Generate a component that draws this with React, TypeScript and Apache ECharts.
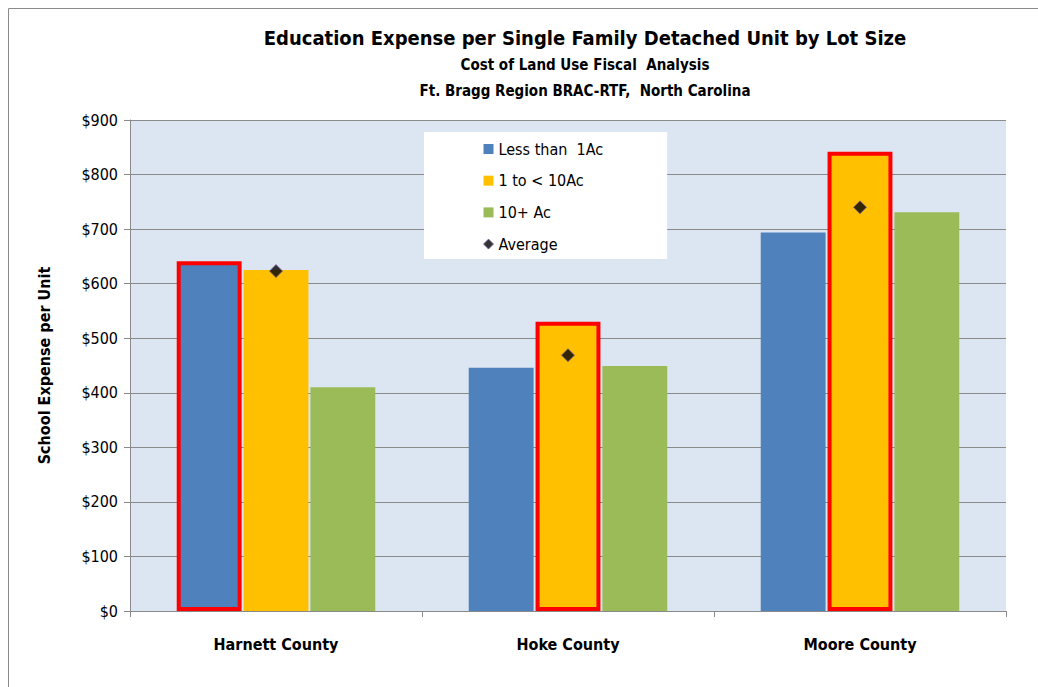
import React, { useEffect, useRef } from "react";
import * as echarts from "echarts";

const categories = ["Harnett County", "Hoke County", "Moore County"];
const lessThan1Ac = [641, 446, 694];
const oneTo10Ac = [625, 530, 842];
const tenPlusAc = [410, 449, 731];
const average = [623, 469, 740];
const highlightSeries = [0, 1, 1]; // which series holds the highlighted (max) bar per category
const yTicks = { min: 0, max: 900, interval: 100 };

const FONT = "'Liberation Sans Narrow', 'DejaVu Sans Condensed', sans-serif";

export default function App() {
  const ref = useRef<HTMLDivElement>(null);
  useEffect(() => {
    document.body.style.margin = "0";
    const chart = echarts.init(ref.current!, null, { renderer: "svg" });
    const mk = (vals: number[], idx: number) =>
      vals.map((v, i) =>
        highlightSeries[i] === idx
          ? { value: v, itemStyle: { borderColor: "#FF0000", borderWidth: 4 } }
          : v
      );
    chart.setOption({
      animation: false,
      textStyle: { fontFamily: FONT },
      title: [
        {
          text: "Education Expense per Single Family Detached Unit by Lot Size",
          left: 580, top: 23, textAlign: "center",
          textStyle: { fontFamily: FONT, fontSize: 20, fontWeight: "bold", color: "#000" },
        },
        {
          text: "Cost of Land Use Fiscal  Analysis",
          left: 580, top: 52, textAlign: "center",
          textStyle: { fontFamily: FONT, fontSize: 15, fontWeight: "bold", color: "#000" },
        },
        {
          text: "Ft. Bragg Region BRAC-RTF,  North Carolina",
          left: 580, top: 78, textAlign: "center",
          textStyle: { fontFamily: FONT, fontSize: 15, fontWeight: "bold", color: "#000" },
        },
      ],
      graphic: [
        {
          type: "rect",
          shape: { x: 8.5, y: 8.5, width: 1040, height: 700 },
          style: { fill: "none", stroke: "#8a8a8a", lineWidth: 1 },
          silent: true,
        },
      ],
      legend: {
        orient: "vertical",
        left: 424,
        top: 132,
        backgroundColor: "#FFFFFF",
        padding: [8, 64, 6, 59],
        itemWidth: 10,
        itemHeight: 10,
        itemGap: 13.7,
        textStyle: { fontFamily: FONT, fontSize: 16, color: "#000", lineHeight: 18 },
        data: [
          { name: "Less than  1Ac", icon: "rect" },
          { name: "1 to < 10Ac", icon: "rect" },
          { name: "10+ Ac", icon: "rect" },
          { name: "Average", icon: "diamond", itemStyle: { color: "#000", borderColor: "#7F5F9F", borderWidth: 1 } },
        ],
      },
      grid: { left: 130, right: 32, top: 120, bottom: 76, show: true, backgroundColor: "#DCE6F2", borderWidth: 0 },
      xAxis: {
        type: "category",
        data: categories,
        axisLine: { lineStyle: { color: "#8a8a8a" } },
        axisTick: { show: true, length: 6, lineStyle: { color: "#8a8a8a" } },
        axisLabel: { fontFamily: FONT, fontSize: 16, fontWeight: "bold", color: "#000", margin: 25 },
      },
      yAxis: {
        type: "value",
        min: yTicks.min,
        max: yTicks.max,
        interval: yTicks.interval,
        name: "School Expense per Unit",
        nameLocation: "middle",
        nameGap: 78,
        nameTextStyle: { fontFamily: FONT, fontSize: 16, fontWeight: "bold", color: "#000" },
        axisLine: { show: true, lineStyle: { color: "#8a8a8a" } },
        axisTick: { show: true, length: 6, lineStyle: { color: "#8a8a8a" } },
        axisLabel: { fontFamily: FONT, fontSize: 16, color: "#000", margin: 12, formatter: (v: number) => "$" + v },
        splitLine: { lineStyle: { color: "#8a8a8a", width: 1 } },
      },
      series: [
        { name: "Less than  1Ac", type: "bar", data: mk(lessThan1Ac, 0), itemStyle: { color: "#4F81BD" }, barGap: "3%", barCategoryGap: "32%" },
        { name: "1 to < 10Ac", type: "bar", data: mk(oneTo10Ac, 1), itemStyle: { color: "#FFC000" } },
        { name: "10+ Ac", type: "bar", data: mk(tenPlusAc, 2), itemStyle: { color: "#9BBB59" } },
        {
          name: "Average", type: "scatter", data: average, symbol: "diamond", symbolSize: 13,
          itemStyle: { color: "#000", borderColor: "#7F5F9F", borderWidth: 1 }, z: 5,
        },
      ],
    });
    return () => chart.dispose();
  }, []);
  return <div ref={ref} style={{ width: 1038, height: 687 }} />;
}
